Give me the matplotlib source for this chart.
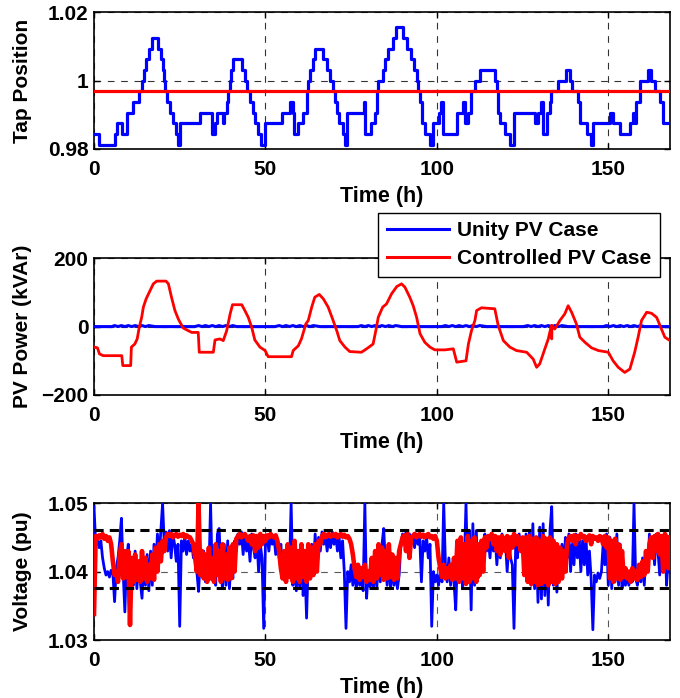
import numpy as np
import matplotlib
matplotlib.use("Agg")
import matplotlib.pyplot as plt

plt.rcParams['font.family'] = ['Liberation Sans', 'DejaVu Sans']
plt.rcParams['font.weight'] = 'bold'

# ---------------- Data ----------------
# Tap position (step function): start time (h) and tap value
tap_t = [0, 1.55, 6.1, 6.8, 8.1, 9.5, 11.3, 13.2, 13.9, 14.6, 15.2, 16.1, 16.8, 18.8, 19.4, 20.0, 20.3,
         20.6, 21.2, 22.2, 22.9, 23.9, 24.6, 25.1, 30.9, 34.3, 35.3, 35.8, 37.5, 37.9, 38.7, 39.2, 39.7,
         40.1, 40.6, 43.3, 44.0, 44.5, 45.5, 46.3, 46.9, 47.9, 48.6, 49.9, 54.7, 57.1, 57.9, 58.3, 59.6,
         61.0, 62.0, 62.5, 63.0, 63.8, 64.4, 66.9, 68.0, 68.8, 69.6, 70.3, 70.8, 71.5, 72.7, 73.2, 73.7,
         78.7, 79.1, 80.9, 81.9, 82.4, 82.9, 84.2, 84.9, 85.8, 87.3, 88.1, 90.2, 91.2, 92.6, 93.4, 94.1,
         94.6, 95.1, 95.8, 96.5, 98.0, 98.9, 100.7, 101.2, 101.9, 105.8, 107.7, 108.3, 109.2, 110.1, 111.1,
         112.5, 116.9, 117.4, 117.9, 118.4, 119.8, 121.3, 122.5, 128.6, 129.6, 130.5, 131.0, 132.0, 133.0,
         133.4, 135.4, 137.8, 138.8, 139.3, 141.2, 141.7, 143.7, 145.1, 145.6, 150.5, 151.4, 153.4, 156.3,
         157.3, 157.7, 158.2, 159.2, 161.6, 162.6, 163.6, 165.0, 166.0, 168.0]
tap_v = [0.98438, 0.98125, 0.98438, 0.98750, 0.98438, 0.99063, 0.99375, 0.99688, 1.00000, 1.00313, 1.00625,
         1.00938, 1.01250, 1.00938, 1.00625, 1.00313, 1.00000,
         0.99688, 0.99375, 0.99063, 0.98750, 0.98438, 0.98125, 0.98750, 0.99063, 0.98438, 0.98750, 0.99063,
         0.98750, 0.99063, 0.99375, 0.99688, 1.00000,
         1.00313, 1.00625, 1.00313, 1.00000, 0.99688, 0.99375, 0.99063, 0.98750, 0.98438, 0.98125, 0.98750,
         0.99063, 0.99375, 0.99063, 0.98438, 0.98750,
         0.99063, 0.99688, 1.00000, 1.00313, 1.00625, 1.00938, 1.00625, 1.00313, 1.00000, 0.99688, 0.99375,
         0.99063, 0.98750, 0.98438, 0.98125, 0.99063,
         0.99375, 0.98438, 0.98750, 0.99063, 0.99688, 1.00000, 1.00313, 1.00625, 1.00938, 1.01250, 1.01563,
         1.01250, 1.00938, 1.00625, 1.00313, 1.00000,
         0.99688, 0.99375, 0.98750, 0.98438, 0.98125, 0.98750, 0.99063, 0.99375, 0.98438, 0.99063, 0.99375,
         0.98750, 0.99063, 0.99688, 1.00000,
         1.00313, 1.00000, 0.99688, 0.99063, 0.98750, 0.98438, 0.98125, 0.99063, 0.98750, 0.99063, 0.99375,
         0.98438, 0.99063, 0.99375,
         0.99688, 1.00000, 1.00313, 1.00000, 0.99688, 0.99375, 0.98750, 0.98438, 0.98125, 0.98750, 0.99063,
         0.98750, 0.98438, 0.98750,
         0.99063, 0.98750, 0.99375, 1.00000, 1.00313, 1.00000, 0.99688, 0.99375, 0.98750, 0.98750]
tap_controlled = 0.99688

# PV reactive power (kVAr), controlled case
pv_t = [0, 1.0, 1.6, 2.7, 8.1, 8.4, 10.7, 10.9, 11.9, 12.6, 13.2, 13.9, 14.4, 15.2, 16.1, 17.3, 18.3, 21.0,
        21.7, 22.6, 23.6, 24.6, 26.0, 27.5, 28.5, 30.4, 30.7, 34.8, 35.3, 36.7, 37.7, 38.7, 39.7, 40.4,
        43.1, 44.0, 45.0, 46.0, 46.9, 48.4, 49.9, 50.8, 57.6, 58.1, 59.6, 60.5, 61.8, 62.5, 63.5, 64.4,
        65.7, 66.9, 68.3, 69.6, 70.8, 71.7, 73.2, 74.6, 78.0, 79.5, 81.4, 82.2, 82.9, 84.2, 85.3, 86.8,
        88.3, 89.7, 90.7, 92.1, 93.1, 94.1, 95.1, 96.5, 98.0, 99.4, 102.4, 104.8, 105.8, 108.5, 109.2,
        110.1, 111.1, 111.6, 113.0, 116.9, 117.9, 119.4, 121.3, 123.2, 126.2, 128.1, 129.1, 130.0, 131.5,
        132.5, 133.4, 133.5, 133.6, 134.4, 135.9, 137.3, 138.3, 139.3, 140.7, 141.7, 143.2, 145.1, 147.1,
        150.0, 151.4, 152.9, 154.8, 156.3, 157.7, 158.7, 159.7, 161.2, 162.6, 164.1, 165.5, 166.5, 168.0]
pv_ctrl = [-60, -62, -80, -85, -85, -114, -114, -60, -51, -36, -2, 27, 57, 81, 100, 125, 133, 133,
           125, 86, 47, 22, -4, -12, -17, -17, -75, -75, -39, -36, -41, -12, 37, 64,
           64, 47, 27, -2, -39, -60, -70, -88, -88, -70, -56, -36, 8, 18, 57, 86,
           94, 81, 57, 22, -12, -41, -60, -73, -75, -65, -51, -12, 27, 57, 66, 96,
           117, 125, 115, 86, 61, 27, -21, -46, -60, -68, -68, -65, -104, -100, -51,
           -12, 18, 47, 55, 52, 3, -41, -60, -70, -75, -95, -119, -109, -65,
           -36, 3, -36, 3, -7, 18, 37, 61, 42, 8, -31, -46, -62, -70,
           -75, -100, -119, -134, -124, -75, -31, 18, 42, 39, 27, -7, -31, -41]

# PV reactive power (kVAr), unity case (near zero)
pv_unity_t = [0, 5.2, 6, 7, 8, 9, 10, 11, 12, 13, 14, 15, 16, 17.8, 29.4, 30.5, 31.5, 32.5, 33.5, 34.5, 35.5,
              36.5, 37.5, 38.5, 39.5, 40.5, 41.6, 52.8, 54, 55, 56, 57, 58, 59, 60, 61, 62, 63, 64, 65.9,
              77, 78, 79, 80, 81, 82, 83, 84, 85, 86, 87, 88, 89.7, 101.4, 102.5, 103.5, 104.5, 105.5,
              106.5, 107.5, 108.5, 109.5, 110.5, 111.5, 112.5, 114.5, 125.2, 126.5, 127.5, 128.5, 129.5,
              130.5, 131.5, 132.5, 133.5, 134.5, 135.5, 136.5, 138.3, 148.5, 149.5, 150.5, 151.5, 152.5,
              153.5, 154.5, 155.5, 156.5, 157.5, 158.5, 159.5, 160.5, 162, 168]
pv_unity = [0, 0, 3, 0, 3, 0, 3, 0, 3, 0, 3, 0, 3, 0, 0, 3, 0, 3, 0, 3, 0,
            3, 0, 3, 0, 3, 0, 0, 3, 0, 3, 0, 3, 0, 3, 0, 3, 0, 3, 0,
            0, 3, 0, 3, 0, 3, 0, 3, 0, 3, 0, 3, 0, 0, 3, 0, 3, 0,
            3, 0, 3, 0, 3, 0, 3, 0, 0, 3, 0, 3, 0,
            3, 0, 3, 0, 3, 0, 3, 0, 0, 3, 0, 3, 0,
            3, 0, 3, 0, 3, 0, 3, 0, 0, 0]

# Voltage (pu), half-hourly samples 0..168 h (one row = 10 h)
volt_t = np.arange(337) * 0.5
volt_unity = [
    1.0495, 1.0440, 1.0448, 1.0435, 1.0445, 1.0420, 1.0405, 1.0395, 1.0400, 1.0392, 1.0402, 1.0398, 1.0356, 1.0405, 1.0420, 1.0445, 1.0478, 1.0400, 1.0341, 1.0420,
    1.0440, 1.0385, 1.0420, 1.0380, 1.0430, 1.0375, 1.0410, 1.0385, 1.0361, 1.0415, 1.0380, 1.0425, 1.0372, 1.0430, 1.0380, 1.0440, 1.0400, 1.0455, 1.0420, 1.0460,
    1.0500, 1.0440, 1.0458, 1.0430, 1.0460, 1.0420, 1.0455, 1.0440, 1.0415, 1.0440, 1.0320, 1.0445, 1.0430, 1.0452, 1.0425, 1.0445, 1.0430, 1.0440, 1.0420, 1.0435,
    1.0400, 1.0371, 1.0420, 1.0395, 1.0430, 1.0385, 1.0415, 1.0395, 1.0500, 1.0390, 1.0420, 1.0380, 1.0455, 1.0463, 1.0400, 1.0375, 1.0440, 1.0380, 1.0445, 1.0375,
    1.0420, 1.0390, 1.0445, 1.0430, 1.0455, 1.0440, 1.0458, 1.0425, 1.0455, 1.0430, 1.0450, 1.0415, 1.0455, 1.0435, 1.0420, 1.0450, 1.0400, 1.0440, 1.0420, 1.0317,
    1.0440, 1.0452, 1.0430, 1.0455, 1.0440, 1.0452, 1.0425, 1.0448, 1.0420, 1.0440, 1.0405, 1.0430, 1.0395, 1.0440, 1.0400, 1.0500, 1.0380, 1.0430, 1.0372, 1.0420,
    1.0375, 1.0440, 1.0365, 1.0410, 1.0332, 1.0420, 1.0390, 1.0440, 1.0400, 1.0455, 1.0420, 1.0450, 1.0430, 1.0458, 1.0440, 1.0455, 1.0430, 1.0450, 1.0435, 1.0458,
    1.0440, 1.0455, 1.0430, 1.0450, 1.0420, 1.0445, 1.0400, 1.0317, 1.0400, 1.0385, 1.0410, 1.0380, 1.0405, 1.0375, 1.0400, 1.0380, 1.0395, 1.0372, 1.0500, 1.0361,
    1.0400, 1.0378, 1.0395, 1.0375, 1.0405, 1.0378, 1.0420, 1.0385, 1.0440, 1.0463, 1.0410, 1.0380, 1.0420, 1.0375, 1.0410, 1.0380, 1.0400, 1.0375, 1.0395, 1.0440,
    1.0455, 1.0440, 1.0458, 1.0430, 1.0455, 1.0440, 1.0450, 1.0435, 1.0455, 1.0440, 1.0450, 1.0385, 1.0445, 1.0430, 1.0450, 1.0420, 1.0440, 1.0320, 1.0400, 1.0385,
    1.0395, 1.0380, 1.0400, 1.0385, 1.0500, 1.0410, 1.0385, 1.0420, 1.0380, 1.0410, 1.0385, 1.0344, 1.0420, 1.0390, 1.0440, 1.0375, 1.0410, 1.0500, 1.0390, 1.0460,
    1.0344, 1.0470, 1.0380, 1.0460, 1.0390, 1.0420, 1.0440, 1.0410, 1.0455, 1.0430, 1.0450, 1.0420, 1.0455, 1.0430, 1.0450, 1.0410, 1.0445, 1.0420, 1.0455, 1.0430,
    1.0445, 1.0400, 1.0440, 1.0420, 1.0410, 1.0317, 1.0440, 1.0420, 1.0455, 1.0430, 1.0445, 1.0410, 1.0455, 1.0395, 1.0460, 1.0380, 1.0470, 1.0375, 1.0440, 1.0355,
    1.0465, 1.0360, 1.0470, 1.0365, 1.0440, 1.0351, 1.0460, 1.0495, 1.0380, 1.0440, 1.0370, 1.0420, 1.0395, 1.0440, 1.0400, 1.0450, 1.0420, 1.0455, 1.0400, 1.0440,
    1.0410, 1.0455, 1.0420, 1.0450, 1.0400, 1.0445, 1.0410, 1.0450, 1.0395, 1.0430, 1.0390, 1.0315, 1.0395, 1.0385, 1.0398, 1.0390, 1.0400, 1.0440, 1.0410, 1.0455,
    1.0380, 1.0450, 1.0375, 1.0440, 1.0385, 1.0455, 1.0380, 1.0440, 1.0375, 1.0400, 1.0380, 1.0395, 1.0380, 1.0400, 1.0385, 1.0500, 1.0390, 1.0380, 1.0400, 1.0385,
    1.0420, 1.0380, 1.0430, 1.0400, 1.0455, 1.0420, 1.0450, 1.0410, 1.0455, 1.0430, 1.0395, 1.0450, 1.0420, 1.0455, 1.0380, 1.0420, 1.0400]
volt_ctrl = [
    1.0338, 1.0452, 1.0448, 1.0453, 1.0450, 1.0455, 1.0448, 1.0452, 1.0445, 1.0450, 1.0440, 1.0415, 1.0395, 1.0400, 1.0385, 1.0425, 1.0440, 1.0390, 1.0430, 1.0392,
    1.0430, 1.0322, 1.0420, 1.0385, 1.0425, 1.0388, 1.0415, 1.0385, 1.0430, 1.0390, 1.0420, 1.0385, 1.0410, 1.0390, 1.0425, 1.0388, 1.0435, 1.0400, 1.0440, 1.0415,
    1.0445, 1.0430, 1.0450, 1.0455, 1.0452, 1.0455, 1.0450, 1.0453, 1.0455, 1.0451, 1.0454, 1.0452, 1.0455, 1.0450, 1.0453, 1.0451, 1.0450, 1.0445, 1.0440, 1.0420,
    1.0400, 1.0500, 1.0395, 1.0430, 1.0390, 1.0425, 1.0385, 1.0435, 1.0390, 1.0420, 1.0385, 1.0440, 1.0395, 1.0430, 1.0385, 1.0440, 1.0390, 1.0425, 1.0388, 1.0435,
    1.0390, 1.0440, 1.0400, 1.0448, 1.0452, 1.0455, 1.0450, 1.0453, 1.0455, 1.0450, 1.0445, 1.0452, 1.0440, 1.0453, 1.0430, 1.0452, 1.0435, 1.0455, 1.0440, 1.0452,
    1.0445, 1.0453, 1.0450, 1.0455, 1.0452, 1.0450, 1.0453, 1.0445, 1.0430, 1.0405, 1.0390, 1.0430, 1.0385, 1.0440, 1.0392, 1.0435, 1.0385, 1.0445, 1.0390, 1.0430,
    1.0385, 1.0440, 1.0392, 1.0430, 1.0385, 1.0440, 1.0390, 1.0435, 1.0395, 1.0440, 1.0400, 1.0445, 1.0440, 1.0452, 1.0455, 1.0450, 1.0453, 1.0455, 1.0451, 1.0454,
    1.0452, 1.0455, 1.0450, 1.0453, 1.0455, 1.0451, 1.0454, 1.0450, 1.0452, 1.0448, 1.0440, 1.0425, 1.0405, 1.0392, 1.0410, 1.0388, 1.0405, 1.0392, 1.0410, 1.0385,
    1.0400, 1.0388, 1.0420, 1.0385, 1.0430, 1.0390, 1.0440, 1.0395, 1.0435, 1.0388, 1.0430, 1.0390, 1.0440, 1.0392, 1.0425, 1.0388, 1.0420, 1.0390, 1.0430, 1.0440,
    1.0450, 1.0453, 1.0430, 1.0455, 1.0420, 1.0450, 1.0452, 1.0455, 1.0450, 1.0453, 1.0455, 1.0451, 1.0454, 1.0450, 1.0453, 1.0455, 1.0450, 1.0452, 1.0448, 1.0452,
    1.0445, 1.0420, 1.0405, 1.0392, 1.0410, 1.0390, 1.0405, 1.0392, 1.0410, 1.0388, 1.0420, 1.0390, 1.0445, 1.0385, 1.0450, 1.0390, 1.0440, 1.0382, 1.0452, 1.0385,
    1.0445, 1.0390, 1.0450, 1.0385, 1.0440, 1.0395, 1.0445, 1.0400, 1.0450, 1.0435, 1.0452, 1.0448, 1.0455, 1.0440, 1.0452, 1.0430, 1.0450, 1.0425, 1.0452, 1.0445,
    1.0430, 1.0452, 1.0420, 1.0450, 1.0435, 1.0455, 1.0440, 1.0452, 1.0445, 1.0430, 1.0450, 1.0395, 1.0450, 1.0385, 1.0452, 1.0382, 1.0448, 1.0385, 1.0450, 1.0380,
    1.0445, 1.0382, 1.0452, 1.0385, 1.0448, 1.0380, 1.0450, 1.0385, 1.0445, 1.0382, 1.0440, 1.0385, 1.0435, 1.0390, 1.0430, 1.0400, 1.0440, 1.0450, 1.0452, 1.0445,
    1.0453, 1.0440, 1.0452, 1.0448, 1.0455, 1.0450, 1.0452, 1.0445, 1.0450, 1.0453, 1.0440, 1.0452, 1.0448, 1.0450, 1.0445, 1.0452, 1.0450, 1.0440, 1.0452, 1.0435,
    1.0450, 1.0390, 1.0445, 1.0385, 1.0448, 1.0390, 1.0440, 1.0388, 1.0430, 1.0392, 1.0405, 1.0390, 1.0400, 1.0385, 1.0405, 1.0390, 1.0400, 1.0388, 1.0410, 1.0392,
    1.0415, 1.0395, 1.0430, 1.0400, 1.0440, 1.0450, 1.0420, 1.0452, 1.0430, 1.0455, 1.0425, 1.0452, 1.0400, 1.0455, 1.0450, 1.0405, 1.0450]
v_upper = 1.0461
v_lower = 1.0376

xticks = [0, 50, 100, 150]

# ---------------- Figure ----------------
fig = plt.figure(figsize=(6.8, 6.98), dpi=100)
L, W = 94 / 680, 576 / 680
H = 136.8 / 698
ax1 = fig.add_axes([L, 1 - 149 / 698, W, H])
ax2 = fig.add_axes([L, 1 - 395 / 698, W, H])
ax3 = fig.add_axes([L, 1 - 640 / 698, W, H])

BLUE = '#0000ff'
RED = '#ff0000'
FS = 15

def style(ax):
    ax.set_xlim(0, 168)
    ax.set_xticks(xticks)
    ax.tick_params(direction='in', top=True, right=True, labelsize=FS, length=4, width=1)
    ax.tick_params(axis='x', pad=8)
    ax.tick_params(axis='y', pad=4)
    for lab in ax.get_xticklabels() + ax.get_yticklabels():
        lab.set_fontweight('bold')
    for s in ax.spines.values():
        s.set_linewidth(1.2)
    ax.set_xlabel('Time (h)', fontsize=FS + 0.5, fontweight='bold', labelpad=5)
    ax.yaxis.set_label_coords(-0.108, 0.5)

# Panel 1: tap position
ax1.grid(True, color='0.2', linestyle=(0, (6, 6)), linewidth=0.8)
ax1.step(tap_t, tap_v, where='post', color=BLUE, lw=2.3, zorder=3)
ax1.axhline(tap_controlled, color=RED, lw=2.3, zorder=4)
ax1.set_ylim(0.98, 1.02)
ax1.set_yticks([0.98, 1.0, 1.02])
ax1.set_yticklabels(['0.98', '1', '1.02'])
ax1.set_ylabel('Tap Position', fontsize=FS, fontweight='bold')
style(ax1)

# Panel 2: PV reactive power
ax2.grid(True, color='0.2', linestyle=(0, (6, 6)), linewidth=0.8)
ax2.plot(pv_unity_t, pv_unity, color=BLUE, lw=2.2, label='Unity PV Case', zorder=3)
ax2.plot(pv_t, pv_ctrl, color=RED, lw=2.0, label='Controlled PV Case', zorder=4)
ax2.set_ylim(-200, 200)
ax2.set_yticks([-200, 0, 200])
ax2.set_ylabel('PV Power (kVAr)', fontsize=FS, fontweight='bold')
style(ax2)
leg = ax2.legend(loc='upper right', bbox_to_anchor=(0.9826, 1.3336),
                 prop={'weight': 'bold', 'size': FS}, frameon=True, fancybox=False,
                 framealpha=1, edgecolor='black', handlelength=3.0, borderpad=0.4,
                 labelspacing=0.45, handletextpad=0.4, borderaxespad=0)
leg.get_frame().set_linewidth(1.0)
for ln in leg.get_lines():
    ln.set_linewidth(2.2)

# Panel 3: voltage
ax3.grid(True, color='0.35', linestyle=(0, (6, 6)), linewidth=0.8)
ax3.plot(volt_t, volt_unity, color=BLUE, lw=2.0, zorder=3)
ax3.plot(volt_t, volt_ctrl, color=RED, lw=3.3, zorder=4)
ax3.axhline(v_upper, color='black', lw=2.2, linestyle=(0, (3, 2)), zorder=5)
ax3.axhline(v_lower, color='black', lw=2.2, linestyle=(0, (3, 2)), zorder=5)
ax3.set_ylim(1.03, 1.05)
ax3.set_yticks([1.03, 1.04, 1.05])
ax3.set_yticklabels(['1.03', '1.04', '1.05'])
ax3.set_ylabel('Voltage (pu)', fontsize=FS, fontweight='bold')
style(ax3)

fig.savefig('out.png', dpi=100)
